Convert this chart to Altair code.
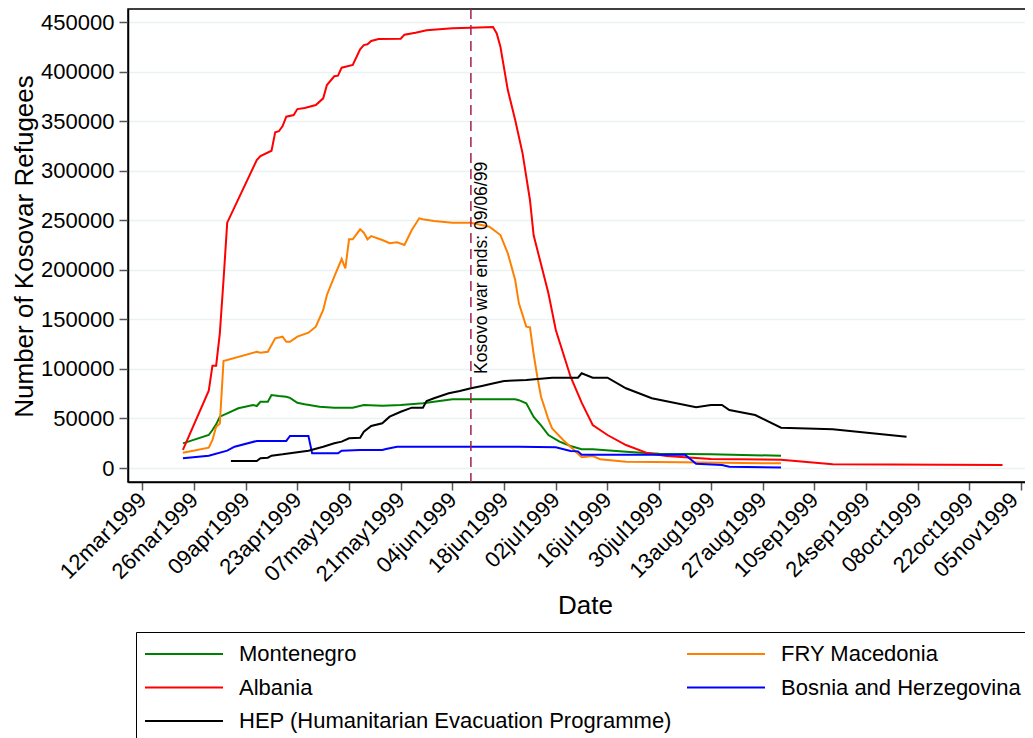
import altair as alt
import pandas as pd

countries = ["Montenegro", "FRY Macedonia", "Albania", "Bosnia and Herzegovina",
             "HEP (Humanitarian Evacuation Programme)"]
colors = ["#008000", "#FF8000", "#FF0000", "#0000FF", "#000000"]

montenegro_dates = ["1999-03-23", "1999-03-30", "1999-03-31", "1999-04-01", "1999-04-02", "1999-04-04",
                    "1999-04-07", "1999-04-11", "1999-04-12", "1999-04-13", "1999-04-15", "1999-04-16",
                    "1999-04-18", "1999-04-20", "1999-04-21", "1999-04-23", "1999-04-25", "1999-04-29",
                    "1999-05-03", "1999-05-08", "1999-05-11", "1999-05-16", "1999-05-21", "1999-05-27",
                    "1999-05-30", "1999-06-04", "1999-06-21", "1999-06-22", "1999-06-24", "1999-06-26",
                    "1999-06-28", "1999-06-30", "1999-07-03", "1999-07-06", "1999-07-09", "1999-07-12",
                    "1999-07-22", "1999-07-30", "1999-08-13", "1999-09-01"]
montenegro_vals = [24900, 33300, 38400, 44100, 51800, 55200,
                   60300, 63600, 62600, 66900, 66900, 73700,
                   72700, 72000, 70800, 65900, 64300, 61900,
                   60900, 60900, 63600, 62900, 63600, 65300,
                   66900, 69400, 69400, 68500, 65300, 51500,
                   43000, 33300, 26600, 22200, 19000, 18900,
                   16200, 14400, 13800, 12400]

albania_dates = ["1999-03-23", "1999-03-30", "1999-03-31", "1999-04-01", "1999-04-02", "1999-04-03",
                 "1999-04-04", "1999-04-12", "1999-04-13", "1999-04-16", "1999-04-17", "1999-04-18",
                 "1999-04-19", "1999-04-20", "1999-04-22", "1999-04-23", "1999-04-25", "1999-04-28",
                 "1999-04-30", "1999-05-01", "1999-05-03", "1999-05-04", "1999-05-05", "1999-05-08",
                 "1999-05-10", "1999-05-11", "1999-05-12", "1999-05-13", "1999-05-15", "1999-05-21",
                 "1999-05-22", "1999-05-25", "1999-05-28", "1999-06-04", "1999-06-09", "1999-06-15",
                 "1999-06-16", "1999-06-17", "1999-06-19", "1999-06-21", "1999-06-23", "1999-06-25",
                 "1999-06-26", "1999-06-30", "1999-07-02", "1999-07-06", "1999-07-09", "1999-07-12",
                 "1999-07-16", "1999-07-21", "1999-07-27", "1999-08-01", "1999-08-05", "1999-08-13",
                 "1999-09-01", "1999-09-15", "1999-10-31"]
albania_vals = [18200, 78000, 103300, 103300, 136000, 189800,
                247700, 311000, 315000, 320300, 338900, 340000,
                345300, 354700, 356400, 362400, 363500, 366500,
                373200, 386700, 395500, 396100, 404200, 406900,
                422700, 427000, 427800, 431100, 433100, 433400,
                437500, 439500, 441900, 443900, 444500, 445200,
                438800, 425300, 381600, 351300, 317700, 270600,
                235000, 176400, 139300, 92200, 66000, 43400,
                33300, 23200, 14800, 12100, 11000, 9100,
                8400, 3700, 3000]

macedonia_dates = ["1999-03-23", "1999-03-30", "1999-03-31", "1999-04-01", "1999-04-02", "1999-04-03",
                   "1999-04-12", "1999-04-13", "1999-04-15", "1999-04-17", "1999-04-19", "1999-04-20",
                   "1999-04-21", "1999-04-23", "1999-04-26", "1999-04-28", "1999-04-30", "1999-05-01",
                   "1999-05-03", "1999-05-05", "1999-05-06", "1999-05-07", "1999-05-08", "1999-05-10",
                   "1999-05-11", "1999-05-12", "1999-05-13", "1999-05-16", "1999-05-18", "1999-05-20",
                   "1999-05-22", "1999-05-24", "1999-05-26", "1999-05-27", "1999-05-30", "1999-06-04",
                   "1999-06-09", "1999-06-14", "1999-06-17", "1999-06-19", "1999-06-21", "1999-06-22",
                   "1999-06-24", "1999-06-25", "1999-06-26", "1999-06-27", "1999-06-28", "1999-06-30",
                   "1999-07-01", "1999-07-04", "1999-07-09", "1999-07-12", "1999-07-14", "1999-07-21",
                   "1999-08-05", "1999-09-01"]
macedonia_vals = [15500, 20500, 28300, 41700, 45000, 108000,
                  117400, 116400, 117400, 130900, 132600, 127500,
                  127500, 132600, 136600, 142700, 159500, 174700,
                  193100, 211000, 201600, 230900, 230900, 241000,
                  237600, 230900, 234200, 230200, 226900, 227900,
                  225100, 240300, 252100, 251100, 249400, 247700,
                  247700, 243600, 235200, 216800, 189800, 166300,
                  142700, 142000, 115000, 92000, 72000, 49000,
                  40000, 28300, 10800, 12100, 8800, 6400,
                  5800, 4700]

bosnia_dates = ["1999-03-23", "1999-03-30", "1999-04-04", "1999-04-06", "1999-04-12", "1999-04-20",
                "1999-04-21", "1999-04-26", "1999-04-27", "1999-05-04", "1999-05-05", "1999-05-10",
                "1999-05-16", "1999-05-17", "1999-05-20", "1999-06-22", "1999-07-02", "1999-07-06",
                "1999-07-08", "1999-07-09", "1999-08-06", "1999-08-09", "1999-08-16", "1999-08-18",
                "1999-09-01"]
bosnia_vals = [9800, 12400, 17500, 21500, 27300, 27300,
               32300, 32300, 14800, 14800, 17500, 18200,
               18200, 19200, 21500, 21500, 20900, 17200,
               16800, 13500, 13500, 4200, 3000, 1300,
               600]

hep_dates = ["1999-04-05", "1999-04-12", "1999-04-13", "1999-04-15", "1999-04-16", "1999-04-19",
             "1999-04-22", "1999-04-26", "1999-04-30", "1999-05-03", "1999-05-05", "1999-05-07",
             "1999-05-10", "1999-05-11", "1999-05-13", "1999-05-16", "1999-05-18", "1999-05-21",
             "1999-05-24", "1999-05-27", "1999-05-28", "1999-05-30", "1999-06-03", "1999-06-06",
             "1999-06-09", "1999-06-12", "1999-06-14", "1999-06-18", "1999-06-24", "1999-07-01",
             "1999-07-08", "1999-07-09", "1999-07-12", "1999-07-16", "1999-07-21", "1999-07-28",
             "1999-08-09", "1999-08-13", "1999-08-16", "1999-08-18", "1999-08-25", "1999-09-01",
             "1999-09-15", "1999-10-05"]
hep_vals = [7100, 7100, 9800, 10400, 12400, 13800,
            15500, 17500, 21500, 24900, 26600, 30000,
            30600, 36600, 42500, 45100, 51800, 56800,
            60900, 60900, 67600, 70400, 75400, 77700,
            80500, 82800, 84500, 87800, 88800, 91200,
            91200, 95600, 91200, 91200, 80500, 70400,
            61300, 63600, 63600, 58600, 53500, 40700,
            39100, 31600]

series = [(countries[0], montenegro_dates, montenegro_vals),
          (countries[1], macedonia_dates, macedonia_vals),
          (countries[2], albania_dates, albania_vals),
          (countries[3], bosnia_dates, bosnia_vals),
          (countries[4], hep_dates, hep_vals)]

rows = []
for name, ds, vs in series:
    for d, v in zip(ds, vs):
        rows.append({"country": name, "date": d, "value": v})
df = pd.DataFrame(rows)

war_end = "1999-06-09"
annot_text = "Kosovo war ends: 09/06/99"
annot_value = 95000

tick_dates = pd.date_range("1999-03-12", "1999-11-05", freq="14D", tz="UTC")
tick_ms = [int(t.value // 10**6) for t in tick_dates]

PLOT_W = 900
PLOT_H = 473
PX_PER_DAY = 3.692
DAY_MS = 86400000
first_tick = tick_ms[0]
x_lo = int(first_tick - 3.873 * DAY_MS)
x_hi = int(x_lo + PLOT_W / PX_PER_DAY * DAY_MS)

y_ticks = list(range(0, 450001, 50000))

FONT = "Liberation Sans"

x_enc = alt.X(
    "date:T", title="Date",
    scale=alt.Scale(type="utc", domain=[x_lo, x_hi], nice=False),
    axis=alt.Axis(values=tick_ms,
                  labelExpr="lower(utcFormat(datum.value, '%d%b%Y'))",
                  labelAngle=315, labelAlign="right", labelBaseline="middle",
                  labelFontSize=22, labelPadding=6, labelOverlap=False, labelFlush=False,
                  labelOffset={"condition": {"test": f"datum.value >= {tick_ms[-1]}", "value": -7},
                               "value": 0},
                  labelColor="black", labelFont=FONT,
                  tickSize=8, tickColor="#555555", tickWidth=1.5,
                  domainColor="black", domainWidth=1.5, grid=False,
                  titleFontSize=26, titleFontWeight="normal", titleColor="black", titleFont=FONT,
                  titleX=457, titleY=131, titleBaseline="alphabetic", titleAlign="center"))

y_enc = alt.Y(
    "value:Q", title="Number of Kosovar Refugees",
    scale=alt.Scale(domain=[-14135, 463428], nice=False, zero=False),
    axis=alt.Axis(values=y_ticks, format="d",
                  labelFontSize=22, labelPadding=5, labelColor="black", labelFont=FONT,
                  labelBaseline="middle",
                  tickSize=9, tickColor="#555555", tickWidth=1.5,
                  domainColor="black", domainWidth=1.5,
                  grid=True, gridColor="#EAF2F3", gridWidth=1.5,
                  titleFontSize=26, titleFontWeight="normal", titleColor="black", titleFont=FONT,
                  titleX=-96, titleY=237, titleAngle=270, titleAlign="center",
                  titleBaseline="alphabetic"))

lines = alt.Chart(df).mark_line(strokeWidth=2).encode(
    x=x_enc, y=y_enc,
    color=alt.Color("country:N", sort=countries,
                    scale=alt.Scale(domain=countries, range=colors),
                    legend=alt.Legend(title=None, orient="none", legendX=8, legendY=623,
                                      direction="horizontal", columns=2,
                                      symbolType="stroke", symbolSize=6084,
                                      symbolStrokeWidth=2, clipHeight=28, rowPadding=5.5,
                                      columnPadding=14, labelFontSize=22, labelOffset=15,
                                      labelColor="black", labelFont=FONT, labelLimit=1000,
                                      padding=8, strokeColor="black", fillColor="white",
                                      symbolOffset=0)),
    detail="country:N",
)

rule_df = pd.DataFrame({"date": [war_end]})
rule = alt.Chart(rule_df).mark_rule(color="#A51F4F", strokeDash=[10, 6], strokeWidth=1.5).encode(
    x=x_enc)

text_df = pd.DataFrame({"date": [war_end], "value": [annot_value], "label": [annot_text]})
text = alt.Chart(text_df).mark_text(angle=270, align="left", baseline="alphabetic", dy=16,
                                    fontSize=17.5, font=FONT, color="black").encode(
    x=x_enc, y=y_enc, text="label:N")

chart = alt.layer(lines, rule, text).properties(
    width=PLOT_W, height=PLOT_H,
    padding={"left": 120, "top": 1, "right": -3, "bottom": 256},
    autosize=alt.AutoSizeParams(type="none"),
    background="white",
).configure(font=FONT).configure_view(stroke="black", strokeWidth=1.5)

chart.save("out.html", embed_options={"renderer": "svg", "actions": False})
